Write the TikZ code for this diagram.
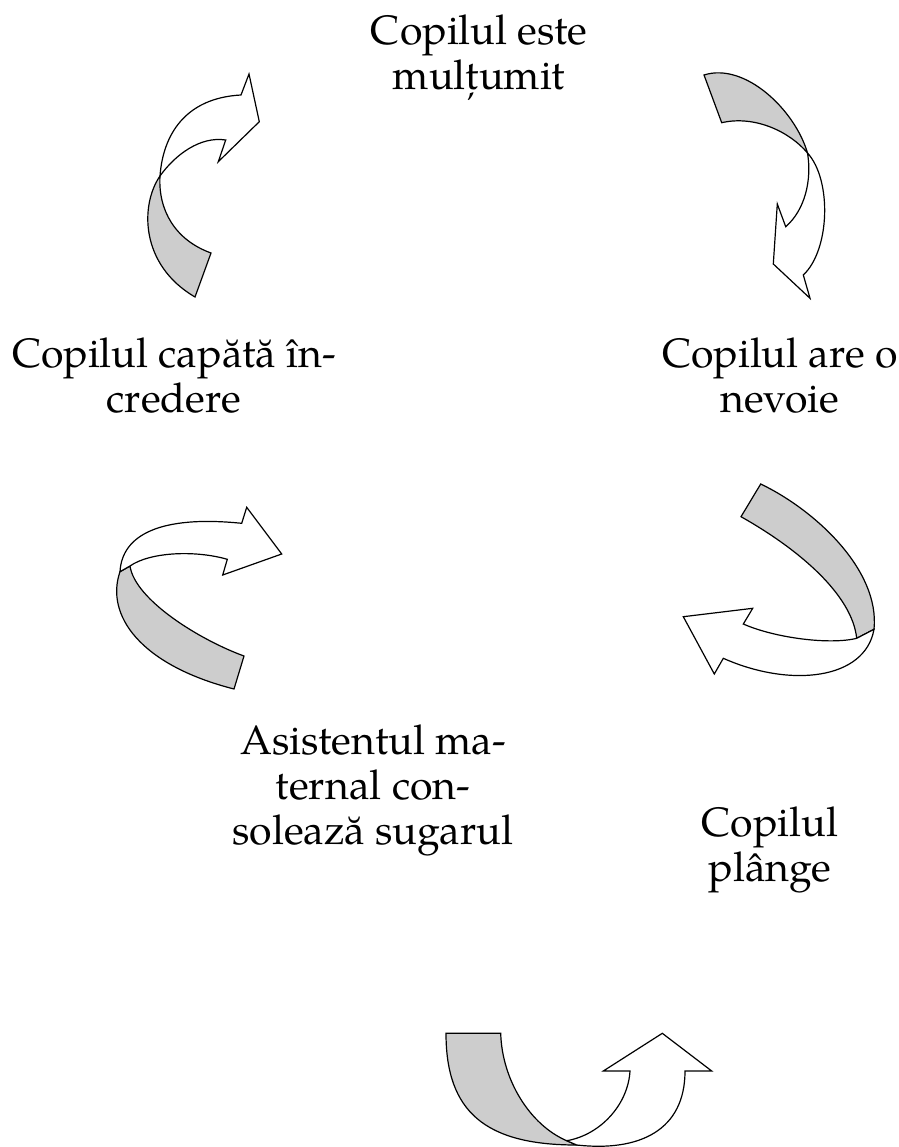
\documentclass[tikz,border=0pt]{standalone}
\usepackage{fontspec}
\setmainfont{TeX Gyre Pagella}
\usetikzlibrary{positioning}
\definecolor{foldgray}{RGB}{205,205,205}
\tikzset{
  lbl/.style  = {align=center, inner sep=0pt,
                 font=\fontsize{41}{45}\selectfont},
  fold/.style = {draw, line width=1.2pt, fill=foldgray, line join=miter},
  band/.style = {draw, line width=1.2pt, fill=white, line join=miter}
}

\begin{document}
\begin{tikzpicture}[x=1pt, y=-1pt]
  \useasboundingbox (0,0) rectangle (898,1147);

  % the five stages
  \node[lbl] (multumit)   at (479,58)  {Copilul este\\mulțumit};
  \node[lbl] (nevoie)     at (780,376) {Copilul are o\\nevoie};
  \node[lbl] (plange)     at (770,850) {Copilul\\plânge};
  \node[lbl] (consoleaza) at (373,790) {Asistentul ma-\\ternal con-\\solează sugarul};
  \node[lbl] (incredere)  at (174,376) {Copilul capătă în-\\credere};

  % top left
  \draw[fold] (160,176) .. controls (140,205) and (140,265) .. (195,297)
              -- (211,253) .. controls (175,240) and (158,210) .. cycle;
  \draw[band] (160,176) .. controls (163,135) and (185,98) .. (241,95)
              -- (249,74) -- (259.3,121.7) -- (218.3,161.7) -- (225.7,140)
              .. controls (200,136) and (175,155) .. cycle;

  % top right
  \draw[fold] (704,75) .. controls (745,62) and (795,110) .. (807.5,153)
              .. controls (790,132) and (755,115) .. (721.7,122.7) -- cycle;
  \draw[band] (807.5,153) .. controls (812,180) and (805,210) .. (785.7,226.7)
              -- (777.3,204) -- (773.3,264) -- (810,298.3) -- (803.3,275)
              .. controls (830,250) and (832,180) .. cycle;

  % right
  \draw[fold] (760.7,484) .. controls (815,510) and (880,570) .. (874,629.3)
              -- (856.7,638.3) .. controls (852,595) and (800,550) .. (741,516.7)
              -- cycle;
  \draw[band] (856.7,638.3) .. controls (830,645) and (775,638) .. (743.3,624)
              -- (752.7,608.3) -- (683.3,616.7) -- (714.3,674) -- (723.3,658.3)
              .. controls (790,688) and (865,680) .. (874,629.3) -- cycle;

  % bottom
  \draw[fold] (446,1033.3) .. controls (446,1111.7) and (485.2,1145) .. (576.7,1145)
              -- (566.7,1140.7) .. controls (530,1125) and (502,1080) .. (500.7,1033.3)
              -- cycle;
  \draw[band] (566.7,1140.7) .. controls (600,1135) and (628,1105) .. (630,1071)
              -- (603.3,1071) -- (662.3,1033.3) -- (711.7,1071) -- (685,1071)
              .. controls (685,1130) and (640,1152) .. (576.7,1145) -- cycle;

  % left
  \draw[fold] (234,689) .. controls (140,665) and (105,615) .. (120,571.7)
              -- (130,566) .. controls (135,600) and (200,640) .. (244,656)
              -- cycle;
  \draw[band] (120,571.7) .. controls (122,535) and (160,515) .. (241.7,523.3)
              -- (246.7,507.3) -- (281.7,554) -- (222.7,575) -- (227.3,559.3)
              .. controls (195,550) and (150,552) .. (130,566) -- cycle;
\end{tikzpicture}
\end{document}
